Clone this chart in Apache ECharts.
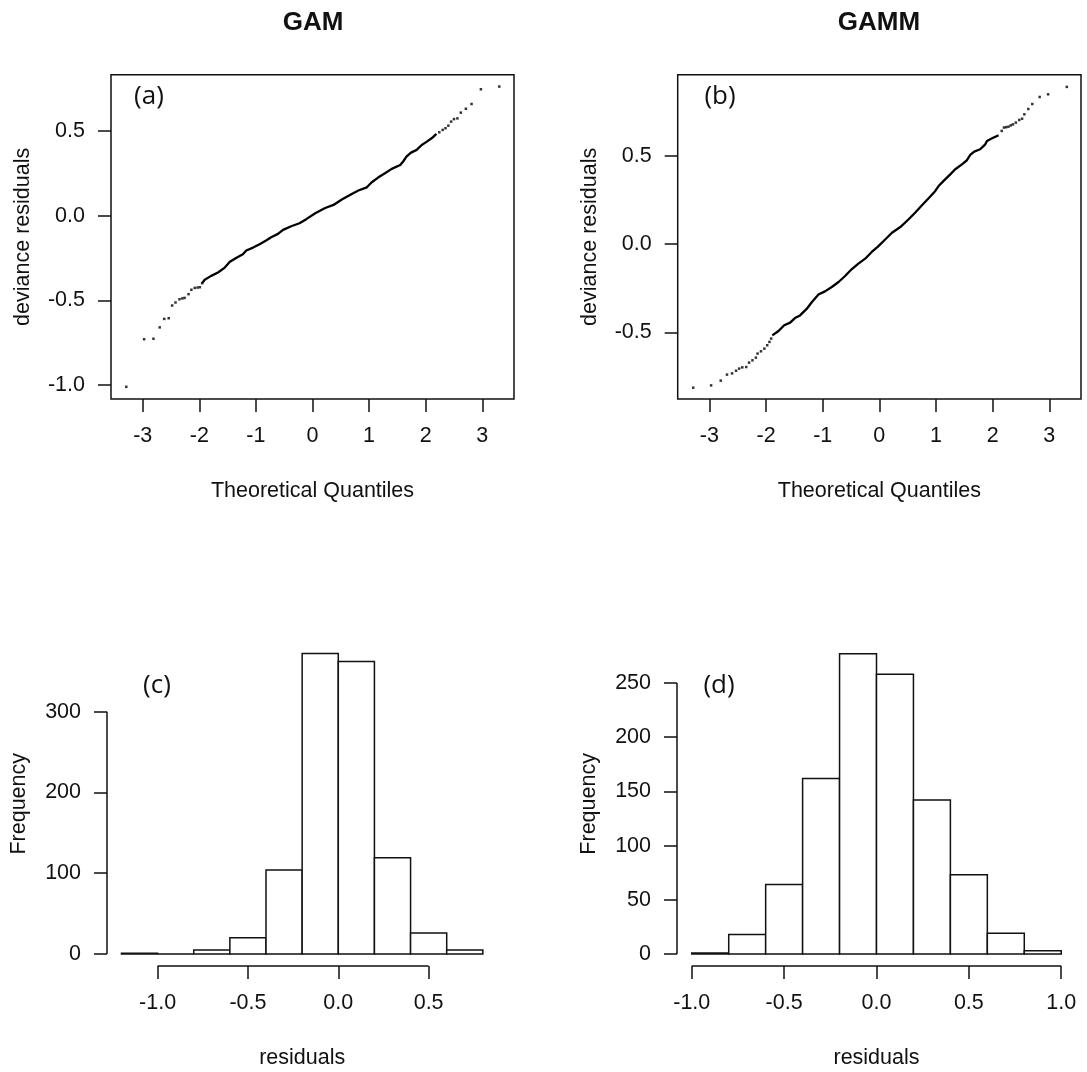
<!DOCTYPE html>
<html>
<head>
<meta charset="utf-8">
<script src="https://cdn.jsdelivr.net/npm/echarts@6/dist/echarts.min.js"></script>
<style>
  html, body { margin: 0; padding: 0; background: #fff; }
  #chart { width: 1087px; height: 1072px; }
</style>
</head>
<body>
<div id="chart"></div>
<script>
// ---- data ----
// QQ plot (a) GAM: [theoretical quantile, deviance residual]
const qqLowA = [[-3.29,-1.011],[-2.975,-0.730],[-2.81,-0.727],[-2.70,-0.660],[-2.62,-0.610],[-2.54,-0.606],
  [-2.48,-0.531],[-2.42,-0.513],[-2.35,-0.494],[-2.30,-0.489],[-2.26,-0.486],[-2.19,-0.464],[-2.14,-0.438],
  [-2.08,-0.427],[-2.03,-0.425],[-1.99,-0.423],[-1.95,-0.399]];
const qqMidA = [[-1.95,-0.399],[-1.905,-0.379],[-1.79,-0.356],[-1.67,-0.336],[-1.55,-0.307],[-1.46,-0.273],
  [-1.35,-0.250],[-1.23,-0.228],[-1.17,-0.206],[-1.05,-0.189],[-0.935,-0.169],[-0.82,-0.147],[-0.73,-0.128],
  [-0.61,-0.108],[-0.52,-0.084],[-0.376,-0.063],[-0.23,-0.045],[-0.11,-0.021],[0.048,0.014],[0.224,0.045],
  [0.371,0.063],[0.518,0.095],[0.694,0.128],[0.81,0.148],[0.96,0.167],[1.047,0.197],[1.165,0.226],
  [1.28,0.250],[1.40,0.276],[1.55,0.299],[1.605,0.321],[1.66,0.348],[1.74,0.372],[1.84,0.388],
  [1.93,0.417],[2.02,0.437],[2.11,0.458],[2.19,0.482]];
const qqHighA = [[2.24,0.492],[2.30,0.506],[2.35,0.516],[2.40,0.531],[2.45,0.555],[2.50,0.570],[2.56,0.574],
  [2.62,0.608],[2.71,0.631],[2.81,0.659],[2.975,0.746],[3.30,0.762]];

// QQ plot (b) GAMM
const qqLowB = [[-3.286,-0.813],[-2.97,-0.800],[-2.80,-0.773],[-2.69,-0.739],[-2.60,-0.732],[-2.53,-0.717],
  [-2.475,-0.705],[-2.42,-0.698],[-2.35,-0.696],[-2.30,-0.671],[-2.24,-0.658],[-2.18,-0.643],[-2.15,-0.620],
  [-2.09,-0.607],[-2.03,-0.592],[-1.98,-0.573],[-1.94,-0.554],[-1.91,-0.535]];
const qqMidB = [[-1.89,-0.517],[-1.78,-0.492],[-1.68,-0.460],[-1.575,-0.445],[-1.49,-0.419],[-1.40,-0.404],
  [-1.28,-0.366],[-1.19,-0.328],[-1.075,-0.286],[-0.96,-0.268],[-0.84,-0.243],[-0.72,-0.215],[-0.605,-0.181],
  [-0.49,-0.143],[-0.37,-0.111],[-0.25,-0.083],[-0.135,-0.045],[-0.03,-0.016],[0.076,0.017],[0.223,0.064],
  [0.37,0.096],[0.517,0.140],[0.635,0.178],[0.752,0.219],[0.87,0.259],[0.988,0.300],[1.046,0.328],
  [1.135,0.357],[1.252,0.394],[1.34,0.423],[1.458,0.451],[1.546,0.474],[1.605,0.504],[1.675,0.523],
  [1.78,0.536],[1.87,0.564],[1.90,0.583],[1.99,0.598],[2.105,0.615]];
const qqHighB = [[2.16,0.640],[2.20,0.659],[2.24,0.661],[2.28,0.664],[2.32,0.671],[2.36,0.677],[2.41,0.687],
  [2.47,0.702],[2.52,0.709],[2.56,0.734],[2.63,0.764],[2.70,0.792],[2.83,0.832],[2.98,0.847],[3.31,0.889]];

// histograms of residuals
const breaksC = [-1.2,-1.0,-0.8,-0.6,-0.4,-0.2,0.0,0.2,0.4,0.6,0.8];
const countsC = [1,0,5,20,104,372,362,119,26,5];
const breaksD = [-1.0,-0.8,-0.6,-0.4,-0.2,0.0,0.2,0.4,0.6,0.8,1.0];
const countsD = [1,18,64,162,277,258,142,73,19,3];

// tick labels
const qqXTicks = [-3,-2,-1,0,1,2,3];
const qqYTicksA = [-1.0,-0.5,0.0,0.5];
const qqYTicksB = [-0.5,0.0,0.5];
const histXTicksC = [-1.0,-0.5,0.0,0.5];
const histXTicksD = [-1.0,-0.5,0.0,0.5,1.0];
const histYTicksC = [0,100,200,300];
const histYTicksD = [0,50,100,150,200,250];

// axis limits (R style 4% padding)
const limA = { x: [-3.56, 3.56], y: [-1.083, 0.832] };
const limB = { x: [-3.56, 3.56], y: [-0.877, 0.958] };
const limC = { x: [-1.28, 0.88], y: [-14.9, 386.9] };
const limD = { x: [-1.08, 1.08], y: [-11.1, 288.1] };

const INK = '#111';
const FONT = 'Liberation Sans';
const FS = 21.5;
const LW = 1.5;

function fmt1(v) { return Number(v).toFixed(1); }
function fmt0(v) { return String(Math.round(v)); }

function xAxisOf(idx, lim, ticks, formatter, name) {
    return {
        type: 'value', gridIndex: idx, min: lim[0], max: lim[1],
        name: name, nameLocation: 'middle', nameGap: 81,
        nameTextStyle: { fontFamily: FONT, fontSize: FS, color: INK },
        axisLine: { show: false, onZero: false },
        splitLine: { show: false },
        axisTick: { show: true, inside: false, length: 13, customValues: ticks,
            lineStyle: { color: INK, width: LW } },
        axisLabel: { show: true, customValues: ticks, formatter: formatter, margin: 26,
            fontFamily: FONT, fontSize: FS, color: INK }
    };
}

function yAxisOf(idx, lim, ticks, formatter, name) {
    return {
        type: 'value', gridIndex: idx, min: lim[0], max: lim[1],
        name: name, nameLocation: 'middle', nameGap: 77, nameRotate: 90,
        nameTextStyle: { fontFamily: FONT, fontSize: FS, color: INK },
        axisLine: { show: false, onZero: false },
        splitLine: { show: false },
        axisTick: { show: true, inside: false, length: 13, customValues: ticks,
            lineStyle: { color: INK, width: LW } },
        axisLabel: { show: true, customValues: ticks, formatter: formatter, margin: 26,
            fontFamily: FONT, fontSize: FS, color: INK }
    };
}

function histItem(params, api) {
    const p0 = api.coord([api.value(0), 0]);
    const p1 = api.coord([api.value(1), api.value(2)]);
    return {
        type: 'rect',
        shape: { x: p0[0], y: p1[1], width: p1[0] - p0[0], height: p0[1] - p1[1] },
        style: { fill: '#fff', stroke: INK, lineWidth: LW }
    };
}

function histData(breaks, counts) {
    return counts.map((c, i) => [breaks[i], breaks[i + 1], c]);
}

function dots(idx, data) {
    return { type: 'scatter', xAxisIndex: idx, yAxisIndex: idx, data: data,
        symbol: 'rect', symbolSize: 2.5, itemStyle: { color: '#000' }, silent: true, animation: false };
}

function curve(idx, data) {
    return { type: 'line', xAxisIndex: idx, yAxisIndex: idx, data: data, symbol: 'none',
        lineStyle: { color: '#000', width: 2.3 }, silent: true, animation: false };
}

function axisSegment(idx, data) {
    return { type: 'line', xAxisIndex: idx, yAxisIndex: idx, data: data, symbol: 'none', clip: false,
        lineStyle: { color: INK, width: LW }, silent: true, animation: false };
}

const chart = echarts.init(document.getElementById('chart'), null, { renderer: 'canvas' });

const gridBox = { show: true, borderColor: INK, borderWidth: LW, backgroundColor: 'transparent',
    outerBoundsMode: 'none', containLabel: false };

function label(text, x, y, font) {
    return { type: 'text', x: x, y: y, style: { text: text, font: font, fill: INK,
        textAlign: 'center', textVerticalAlign: 'middle', align: 'center', verticalAlign: 'middle' } };
}

const option = {
    backgroundColor: '#fff',
    animation: false,
    grid: [
        Object.assign({ left: 111, top: 74.7, width: 403, height: 324.3 }, gridBox),
        Object.assign({ left: 677.7, top: 74.7, width: 403.3, height: 324.3 }, gridBox),
        { left: 107, top: 641.5, width: 390.3, height: 324.5, show: false, outerBoundsMode: 'none', containLabel: false },
        { left: 677, top: 641.7, width: 399, height: 324.3, show: false, outerBoundsMode: 'none', containLabel: false }
    ],
    xAxis: [
        xAxisOf(0, limA.x, qqXTicks, fmt0, 'Theoretical Quantiles'),
        xAxisOf(1, limB.x, qqXTicks, fmt0, 'Theoretical Quantiles'),
        xAxisOf(2, limC.x, histXTicksC, fmt1, 'residuals'),
        xAxisOf(3, limD.x, histXTicksD, fmt1, 'residuals')
    ],
    yAxis: [
        yAxisOf(0, limA.y, qqYTicksA, fmt1, 'deviance residuals'),
        yAxisOf(1, limB.y, qqYTicksB, fmt1, 'deviance residuals'),
        yAxisOf(2, limC.y, histYTicksC, fmt0, 'Frequency'),
        yAxisOf(3, limD.y, histYTicksD, fmt0, 'Frequency')
    ],
    series: [
        dots(0, qqLowA), curve(0, qqMidA), dots(0, qqHighA),
        dots(1, qqLowB), curve(1, qqMidB), dots(1, qqHighB),
        { type: 'custom', xAxisIndex: 2, yAxisIndex: 2, renderItem: histItem, clip: false,
          data: histData(breaksC, countsC), encode: { x: [0, 1], y: 2 }, silent: true, animation: false },
        { type: 'custom', xAxisIndex: 3, yAxisIndex: 3, renderItem: histItem, clip: false,
          data: histData(breaksD, countsD), encode: { x: [0, 1], y: 2 }, silent: true, animation: false },
        // R draws the histogram axes only over the tick range
        axisSegment(2, [[histXTicksC[0], limC.y[0]], [histXTicksC[histXTicksC.length - 1], limC.y[0]]]),
        axisSegment(2, [[limC.x[0], histYTicksC[0]], [limC.x[0], histYTicksC[histYTicksC.length - 1]]]),
        axisSegment(3, [[histXTicksD[0], limD.y[0]], [histXTicksD[histXTicksD.length - 1], limD.y[0]]]),
        axisSegment(3, [[limD.x[0], histYTicksD[0]], [limD.x[0], histYTicksD[histYTicksD.length - 1]]])
    ],
    graphic: [
        label('GAM', 313, 23, 'bold 26px "Liberation Sans"'),
        label('GAMM', 879, 23, 'bold 26px "Liberation Sans"'),
        label('(a)', 149, 97, '26px "Open Sans"'),
        label('(b)', 720, 97, '26px "Open Sans"'),
        label('(c)', 157, 686, '26px "Open Sans"'),
        label('(d)', 719, 686, '26px "Open Sans"')
    ]
};

chart.setOption(option);
</script>
</body>
</html>
